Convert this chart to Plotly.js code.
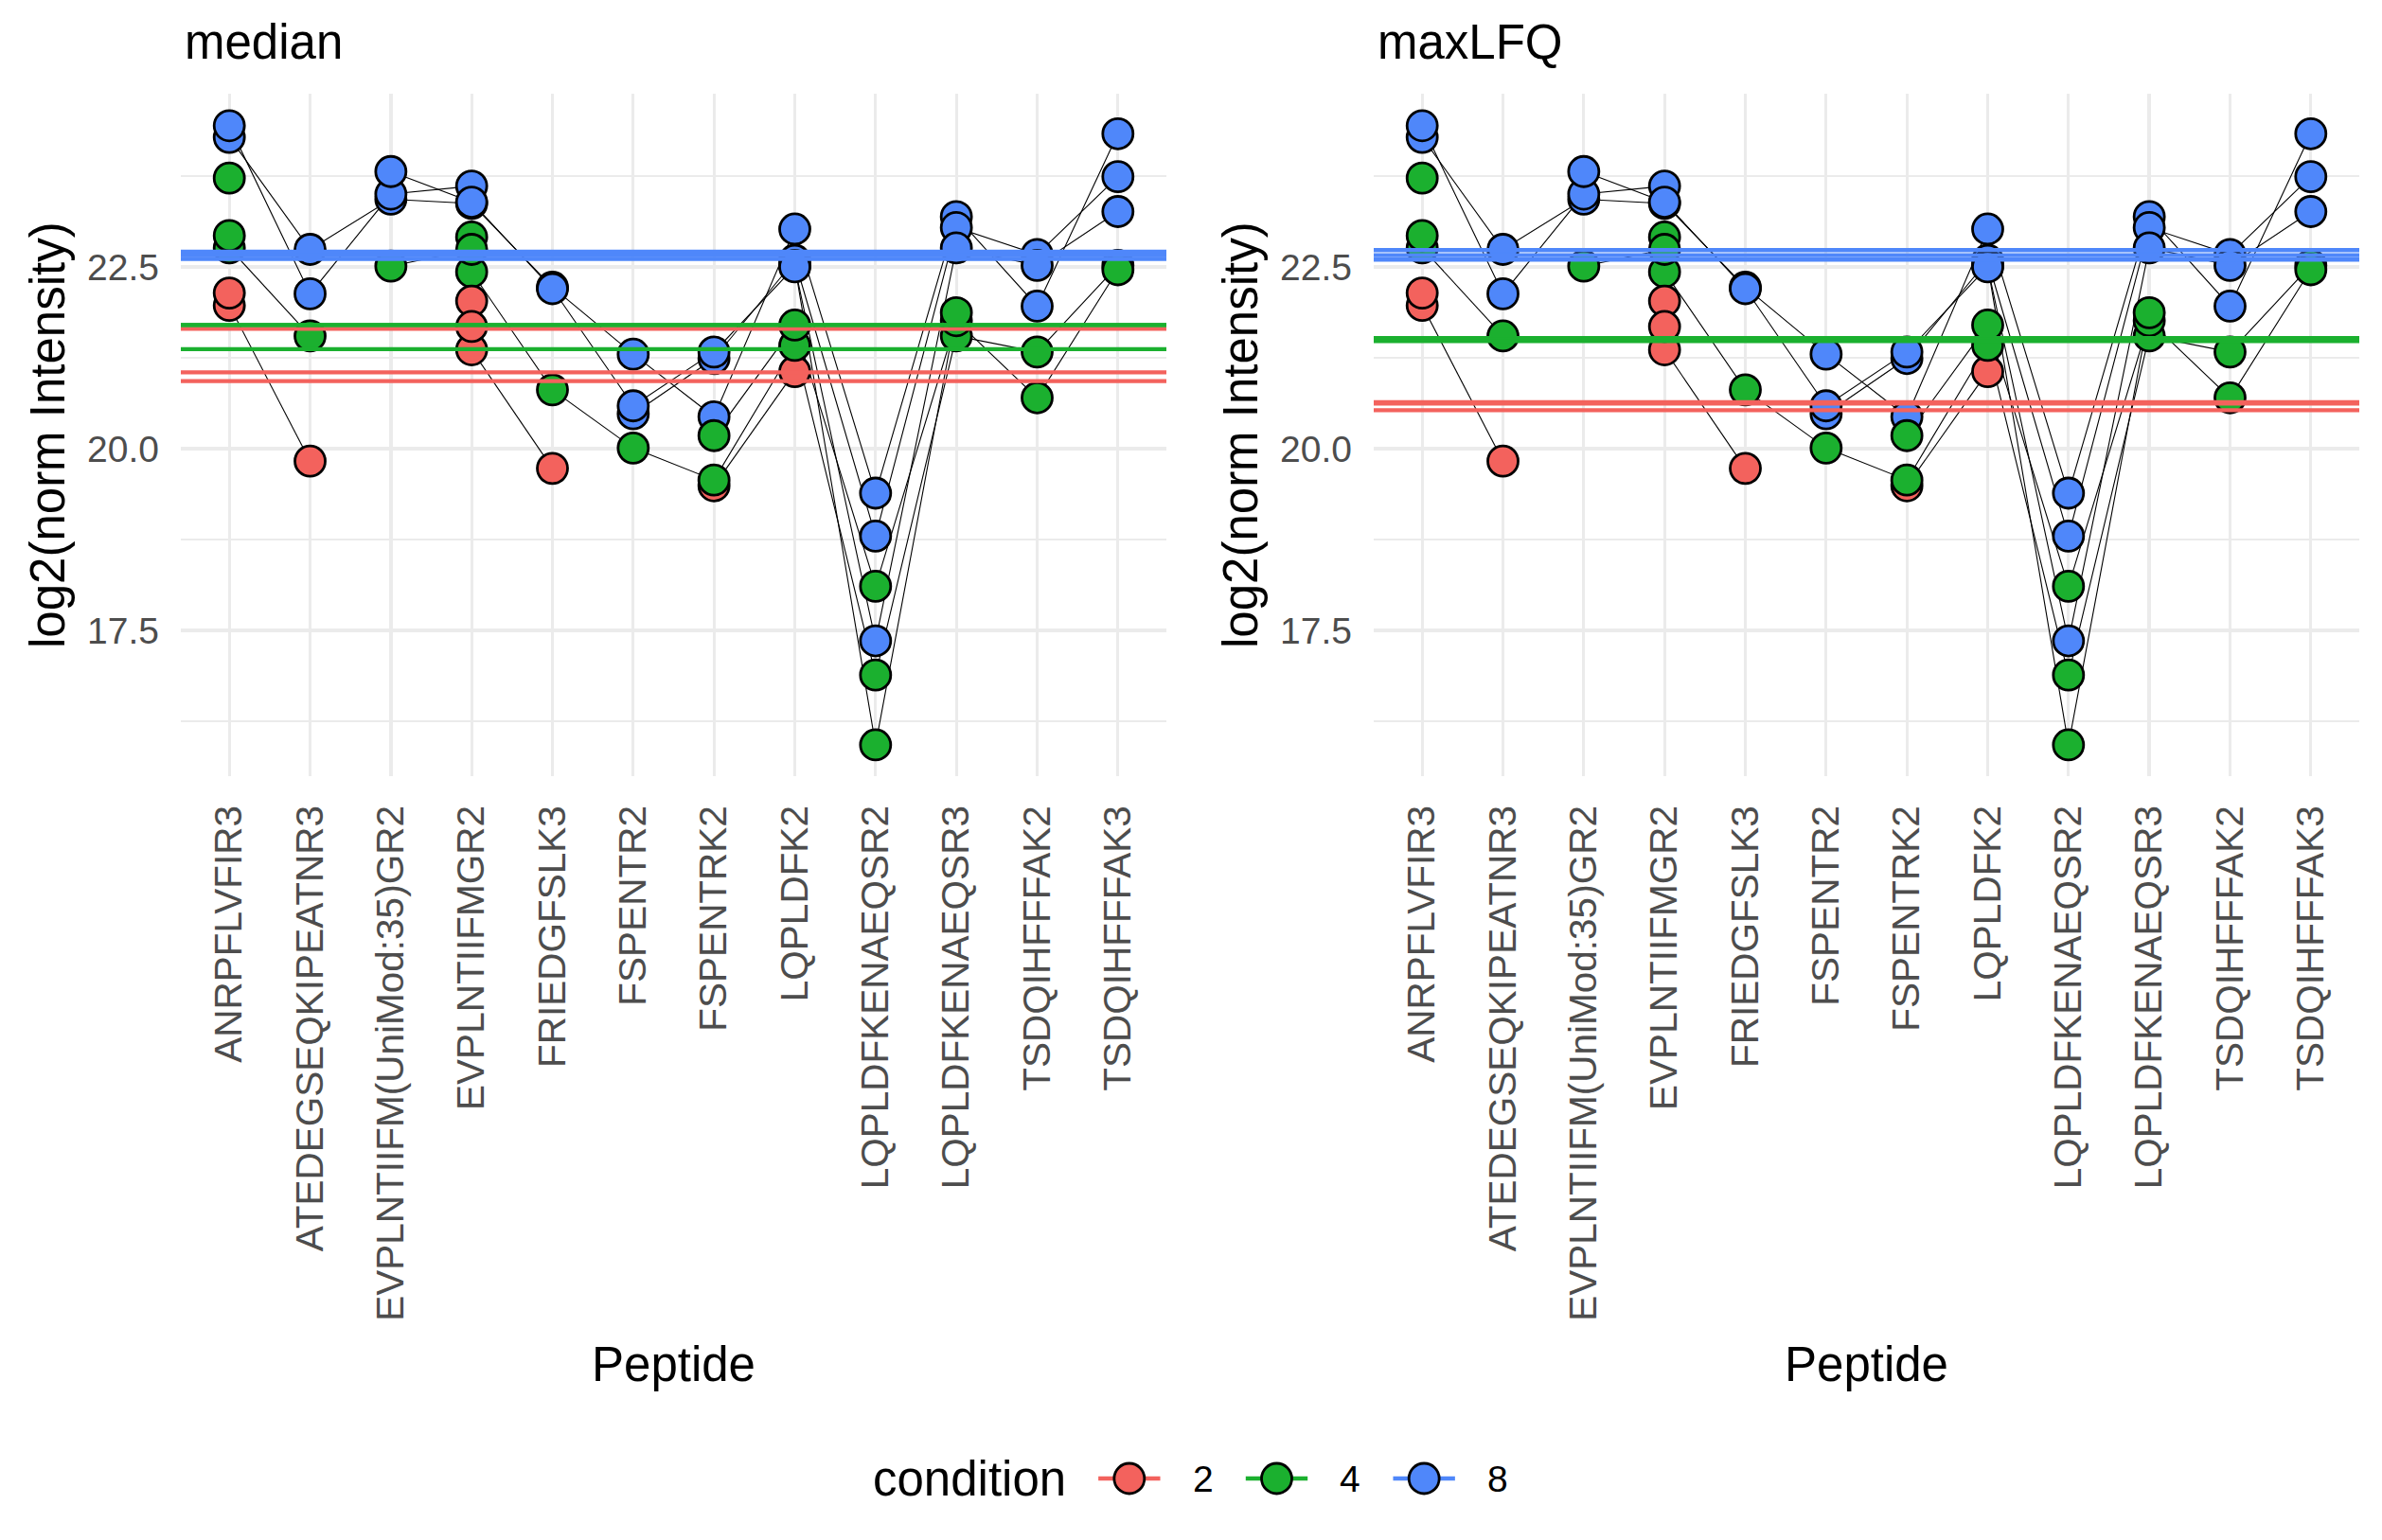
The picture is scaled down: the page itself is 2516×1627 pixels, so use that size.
<!DOCTYPE html>
<html>
<head>
<meta charset="utf-8">
<script src="https://cdn.plot.ly/plotly-3.0.1.min.js"></script>
<style>
  html, body { margin: 0; padding: 0; background: #fff; }
  #graph { width: 2516px; height: 1627px; }
</style>
</head>
<body>
<div id="graph"></div>
<script>
var peptides = ['ANRPFLVFIR3', 'ATEDEGSEQKIPEATNR3', 'EVPLNTIIFM(UniMod:35)GR2', 'EVPLNTIIFMGR2',
  'FRIEDGFSLK3', 'FSPENTR2', 'FSPENTRK2', 'LQPLDFK2', 'LQPLDFKENAEQSR2', 'LQPLDFKENAEQSR3',
  'TSDQIHFFFAK2', 'TSDQIHFFFAK3'];

// one row per sample, one value per peptide (null = not measured)
var r1 = [21.97, 19.83, null, 21.36, 19.73, null, 19.49, 21.06, null, null, null, null];
var r2 = [22.14, null, null, 22.03, null, null, null, null, null, null, null, null];
var r3 = [null, null, null, 21.68, null, null, null, null, null, null, null, null];
var g1 = [22.76, 21.55, null, 22.43, 20.81, 20.01, 19.57, 21.42, 16.89, 21.55, 21.33, 22.52];
var g2 = [23.72, null, null, 22.91, null, null, 20.18, 21.70, 18.11, 21.76, 20.70, 22.46];
var g3 = [22.93, null, 22.51, 22.74, null, null, null, 22.52, 15.93, 21.87, null, null];
var b1 = [24.28, 22.74, 23.43, 23.37, 22.22, 21.30, 20.44, 23.02, 19.39, 23.19, 21.96, 24.33];
var b2 = [24.44, 22.13, 23.50, 23.61, null, 20.48, 21.24, 22.59, 18.80, 23.04, 22.67, 23.74];
var b3 = [null, null, 23.81, 23.39, 22.20, 20.59, 21.33, 22.50, 17.36, 22.76, 22.52, 23.26];

var samples = [r1, g1, b1, r2, g2, b2, r3, g3, b3];
var sampleCond = ['2', '4', '8', '2', '4', '8', '2', '4', '8'];

var conditions = ['2', '4', '8'];
var condColors = {'2': '#F3625D', '4': '#1BB02F', '8': '#4F87FA'};

// protein estimates per sample (horizontal lines)
var medianRed = [21.65, 21.05, 20.93];
var medianGreen = [21.70, 21.70, 21.37];
var medianBlue = [22.71, 22.66, 22.61];
var lfqRed = [20.64, 20.62, 20.53];
var lfqGreen = [21.52, 21.50, 21.48];
var lfqBlue = [22.73, 22.66, 22.60];

var panels = [
  {name: 'median', xa: 'x', ya: 'y', lines: {'2': medianRed, '4': medianGreen, '8': medianBlue}},
  {name: 'maxLFQ', xa: 'x2', ya: 'y2', lines: {'2': lfqRed, '4': lfqGreen, '8': lfqBlue}}
];

var W = 2516, H = 1627;
function px(x) { return x / W; }
function py(y) { return 1 - y / H; }

var data = [];
var shapes = [];
var ptSize = 32, ptLine = 2.8, hlineWidth = 4.3;

panels.forEach(function (p) {
  // black sample lines first, under the points
  samples.forEach(function (s) {
    data.push({
      x: peptides, y: s, xaxis: p.xa, yaxis: p.ya,
      mode: 'lines', connectgaps: false, showlegend: false, hoverinfo: 'skip',
      line: {color: '#000000', width: 1.1}
    });
  });
  samples.forEach(function (s, i) {
    data.push({
      x: peptides, y: s, xaxis: p.xa, yaxis: p.ya,
      mode: 'markers', showlegend: false,
      marker: {size: ptSize, color: condColors[sampleCond[i]], line: {color: '#000000', width: ptLine}}
    });
  });
  conditions.forEach(function (c) {
    p.lines[c].forEach(function (v) {
      shapes.push({
        type: 'line', xref: p.xa + ' domain', x0: 0, x1: 1, yref: p.ya, y0: v, y1: v,
        line: {color: condColors[c], width: hlineWidth}
      });
    });
  });
});

// legend keys, drawn on their own small axis (one category per condition)
conditions.forEach(function (c, i) {
  shapes.push({
    type: 'line', xref: 'x3', yref: 'y3', x0: i - 0.21, x1: i + 0.21, y0: 0, y1: 0,
    line: {color: condColors[c], width: hlineWidth}, layer: 'below'
  });
});
data.push({
  x: conditions, y: conditions.map(function () { return 0; }), xaxis: 'x3', yaxis: 'y3',
  mode: 'markers', showlegend: false, hoverinfo: 'skip',
  marker: {size: ptSize, color: conditions.map(function (c) { return condColors[c]; }),
           line: {color: '#000000', width: ptLine}}
});

var font = 'Liberation Sans, Arial, Helvetica, sans-serif';

function xaxis(domain, anchor) {
  return {
    type: 'category', categoryorder: 'array', categoryarray: peptides,
    range: [-0.6, 11.6], domain: domain, anchor: anchor,
    showgrid: true, gridcolor: '#ebebeb', gridwidth: 3.3,
    zeroline: false, showline: false, ticks: '',
    tickangle: -90, ticklabelstandoff: 22,
    tickfont: {family: font, size: 40.5, color: '#4d4d4d'}
  };
}
function yaxis(anchor) {
  return {
    range: [15.5, 24.88], domain: [py(820), py(99)], anchor: anchor,
    tick0: 0, dtick: 2.5, tickformat: '.1f',
    showgrid: true, gridcolor: '#ebebeb', gridwidth: 3.8,
    minor: {tick0: 0, dtick: 1.25, showgrid: true, gridcolor: '#ebebeb', gridwidth: 2},
    zeroline: false, showline: false, ticks: '', ticklabelstandoff: 22,
    tickfont: {family: font, size: 39, color: '#4d4d4d'}
  };
}

var annotations = [];
[0, 1260].forEach(function (off, i) {
  annotations.push({
    text: panels[i].name, xref: 'paper', yref: 'paper', x: px(193 + off), y: py(45),
    xanchor: 'left', yanchor: 'middle', showarrow: false,
    font: {family: font, size: 51, color: '#000000'}
  });
  annotations.push({
    text: 'log2(norm Intensity)', xref: 'paper', yref: 'paper', x: px(50 + off), y: py(460),
    xanchor: 'center', yanchor: 'middle', textangle: -90, showarrow: false,
    font: {family: font, size: 51, color: '#000000'}
  });
  annotations.push({
    text: 'Peptide', xref: 'paper', yref: 'paper', x: px(711 + off), y: py(1441),
    xanchor: 'center', yanchor: 'middle', showarrow: false,
    font: {family: font, size: 51, color: '#000000'}
  });
});
annotations.push({
  text: 'condition', xref: 'paper', yref: 'paper', x: px(1128), y: py(1562),
  xanchor: 'right', yanchor: 'middle', showarrow: false,
  font: {family: font, size: 51, color: '#000000'}
});
conditions.forEach(function (c, i) {
  annotations.push({
    text: c, xref: 'x3', yref: 'y3', x: i + 0.5, y: 0,
    xanchor: 'center', yanchor: 'middle', showarrow: false,
    font: {family: font, size: 39, color: '#000000'}
  });
});

var layout = {
  width: W, height: H,
  margin: {l: 0, r: 0, t: 0, b: 0},
  paper_bgcolor: '#ffffff', plot_bgcolor: '#ffffff',
  font: {family: font},
  xaxis: xaxis([px(191), px(1232)], 'y'),
  yaxis: yaxis('x'),
  xaxis2: xaxis([px(1451), px(2492)], 'y2'),
  yaxis2: yaxis('x2'),
  xaxis3: {
    type: 'category', categoryorder: 'array', categoryarray: conditions,
    range: [-0.5, 2.5], domain: [px(1115), px(1582)], anchor: 'y3',
    visible: false, showgrid: false, zeroline: false
  },
  yaxis3: {
    range: [-1, 1], domain: [py(1600), py(1524)], anchor: 'x3',
    visible: false, showgrid: false, zeroline: false
  },
  shapes: shapes,
  annotations: annotations,
  showlegend: false
};

Plotly.newPlot('graph', data, layout, {displayModeBar: false, staticPlot: true});
</script>
</body>
</html>
